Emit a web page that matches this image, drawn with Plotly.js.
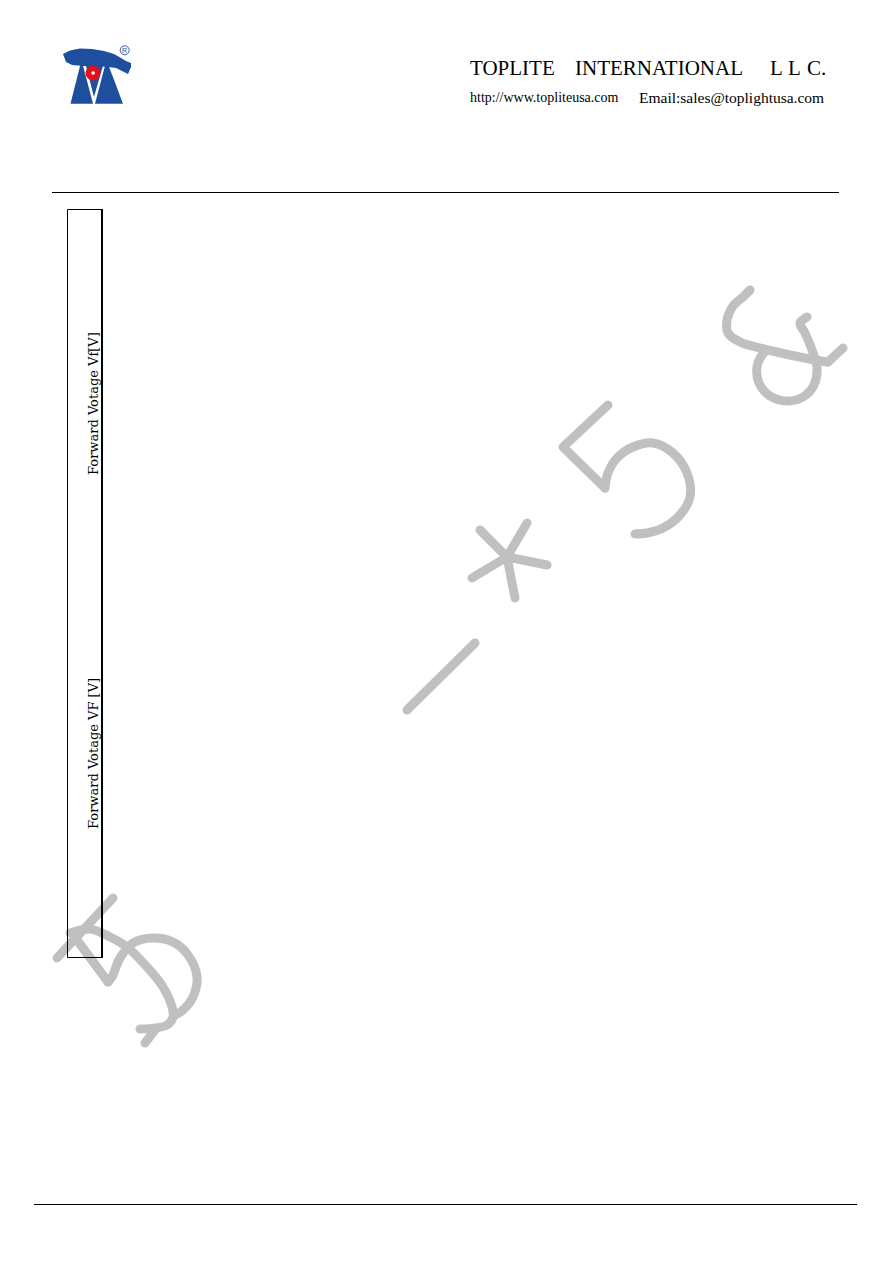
<!DOCTYPE html>
<html>
<head>
<meta charset="utf-8">
<script src="https://cdn.plot.ly/plotly-3.0.1.min.js"></script>
<style>
  html, body { margin: 0; padding: 0; background: #fff; }
  #chart { width: 892px; height: 1263px; }
  .js-line { stroke-linecap: round !important; stroke-linejoin: round !important; }
</style>
</head>
<body>
<div id="chart"></div>
<script>
// ---- texts ----
const companyWords = ["TOPLITE", "INTERNATIONAL", "L", "L", "C."];
const companyWordX = [469, 574, 769, 787, 806];
const contactTexts = ["http://www.topliteusa.com", "Email:sales@toplightusa.com"];
const axisLabels = ["Forward Votage Vf[V]", "Forward Votage VF [V]"];

// ---- watermark strokes (page pixel coordinates) ----
const wmA_x = [113, 57];                 const wmA_y = [898, 958];
const wmB_x = [70, 90, 110, 127, 147, 163, 172, 173, 167, 140];
const wmB_y = [933, 929, 937, 947, 967, 987, 1007, 1017, 1025, 1029];
const wmC_x = [155, 145];                const wmC_y = [1030, 1043];
const wmD_x = [77, 108];                 const wmD_y = [940, 982];
const wmE_x = [108, 112, 120, 133, 153, 173, 188, 197, 193, 183, 175];
const wmE_y = [982, 977, 958, 943, 938, 942, 955, 977, 997, 1010, 1015];
const wmF_x = [608, 563, 605];           const wmF_y = [405, 447, 488];
const wmG_x = [605, 608, 617, 633, 653, 673, 687, 690, 680, 663, 647, 635];
const wmG_y = [488, 473, 458, 447, 443, 453, 473, 497, 515, 528, 533, 534];
const wmH_x = [480, 507];                const wmH_y = [530, 557];
const wmI_x = [527, 507, 515];           const wmI_y = [523, 557, 598];
const wmJ_x = [472, 507, 547];           const wmJ_y = [578, 557, 565];
const wmK_x = [475, 407];                const wmK_y = [643, 710];
const wmL_x = [750, 744, 733, 727, 728, 740, 760, 790, 815, 828];
const wmL_y = [290, 296, 306, 320, 333, 342, 348, 355, 360, 362];
const wmM_x = [828, 843];                const wmM_y = [362, 348];
const wmN_x = [807, 800, 805, 812, 817, 814, 803, 787, 770, 759, 757, 762, 767];
const wmN_y = [317, 323, 333, 350, 367, 385, 397, 401, 396, 383, 367, 355, 350];

const wmStrokes = [
  [wmA_x, wmA_y, 'linear'], [wmB_x, wmB_y, 'spline'], [wmC_x, wmC_y, 'linear'],
  [wmD_x, wmD_y, 'linear'], [wmE_x, wmE_y, 'spline'], [wmF_x, wmF_y, 'linear'],
  [wmG_x, wmG_y, 'spline'], [wmH_x, wmH_y, 'linear'], [wmI_x, wmI_y, 'linear'],
  [wmJ_x, wmJ_y, 'linear'], [wmK_x, wmK_y, 'linear'], [wmL_x, wmL_y, 'spline'],
  [wmM_x, wmM_y, 'linear'], [wmN_x, wmN_y, 'spline']
];

const traces = wmStrokes.map(s => ({
  x: s[0], y: s[1], type: 'scatter', mode: 'lines',
  line: { color: '#c0c0c0', width: 9, shape: s[2], smoothing: 1 },
  hoverinfo: 'skip'
}));

const blue = '#1d4f9e';
const red = '#e3101b';

const shapes = [
  // header & footer rules
  { type: 'line', x0: 52, x1: 839, y0: 192.5, y1: 192.5, line: { color: '#000', width: 1.2 } },
  { type: 'line', x0: 34, x1: 857, y0: 1204.5, y1: 1204.5, line: { color: '#000', width: 1.2 } },
  // narrow framed box
  { type: 'line', x0: 67.5, x1: 67.5, y0: 209.5, y1: 957.5, line: { color: '#000', width: 1 } },
  { type: 'line', x0: 67.5, x1: 102, y0: 209.5, y1: 209.5, line: { color: '#000', width: 1.2 } },
  { type: 'line', x0: 67.5, x1: 102, y0: 957.5, y1: 957.5, line: { color: '#000', width: 1 } },
  { type: 'line', x0: 102, x1: 102, y0: 209, y1: 958, line: { color: '#000', width: 2 } },
  // logo: banner
  { type: 'path', path: 'M63,54 L70,50.5 L80,48.5 L92,49 L104,51 L114,54 L121,58 L126,61 L131,63 L131,67 L128,74 L122,71 L116,68 L108,67 L96,66 L84,66 L72,65 L66,62 Z',
    fillcolor: blue, line: { width: 0 } },
  // logo: legs and centre
  { type: 'path', path: 'M70.5,103.7 L81.5,60 L93,103.7 Z', fillcolor: blue, line: { width: 0 } },
  { type: 'path', path: 'M95,103.7 L106.5,60 L123,103.7 Z', fillcolor: blue, line: { width: 0 } },
  { type: 'path', path: 'M85,62 L104,62 L94,97 Z', fillcolor: blue, line: { width: 0 } },
  // red circle
  { type: 'circle', x0: 85.5, x1: 100.5, y0: 65.5, y1: 80.5, fillcolor: red, line: { width: 0 } },
  { type: 'circle', x0: 91.3, x1: 94.9, y0: 71.2, y1: 74.8, fillcolor: '#fff', line: { width: 0 } },
  // registered mark
  { type: 'circle', x0: 120.2, x1: 129.2, y0: 45.8, y1: 54.8, fillcolor: 'rgba(0,0,0,0)', line: { color: blue, width: 0.9 } }
];

const serif = 'Liberation Serif';
const annotations = [];
companyWords.forEach((w, i) => annotations.push({
  text: w, x: companyWordX[i], y: 68, xanchor: 'left', yanchor: 'middle',
  font: { family: serif, size: 21, color: '#000' }
}));
annotations.push(
  { text: contactTexts[0], x: 469, y: 97, xanchor: 'left', yanchor: 'middle', font: { family: serif, size: 14, color: '#000' } },
  { text: contactTexts[1], x: 638, y: 97, xanchor: 'left', yanchor: 'middle', font: { family: serif, size: 15.5, color: '#000' } },
  { text: axisLabels[0], x: 93, y: 404, textangle: -90, xanchor: 'center', yanchor: 'middle', font: { family: 'DejaVu Serif', size: 13, color: '#000' } },
  { text: axisLabels[1], x: 93, y: 754, textangle: -90, xanchor: 'center', yanchor: 'middle', font: { family: 'DejaVu Serif', size: 13, color: '#000' } },
  { text: 'R', x: 124.7, y: 50.4, xanchor: 'center', yanchor: 'middle', font: { family: 'Liberation Sans', size: 7, color: blue } }
);
annotations.forEach(a => Object.assign(a, { xref: 'x', yref: 'y', showarrow: false, borderpad: 0 }));

const layout = {
  width: 892, height: 1263,
  margin: { l: 0, r: 0, t: 0, b: 0, pad: 0 },
  paper_bgcolor: '#fff', plot_bgcolor: '#fff',
  showlegend: false,
  xaxis: { range: [0, 892], visible: false, fixedrange: true },
  yaxis: { range: [1263, 0], visible: false, fixedrange: true },
  shapes: shapes,
  annotations: annotations
};

Plotly.newPlot('chart', traces, layout, { staticPlot: true, displayModeBar: false });
</script>
</body>
</html>
